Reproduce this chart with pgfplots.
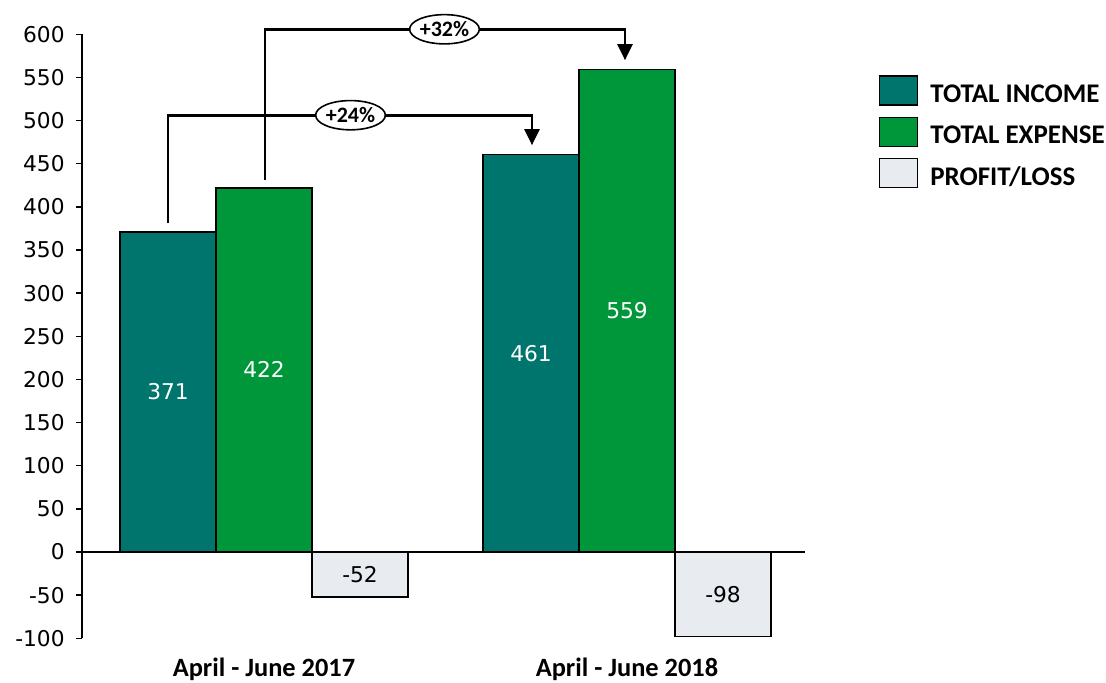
\documentclass[border=0pt]{standalone}
\usepackage{fontspec}
\setmainfont{DejaVu Sans}
\newfontfamily\carlito{Carlito}
\usepackage{pgfplots}
\pgfplotsset{compat=1.18}
\usetikzlibrary{arrows.meta,shapes.geometric}
\definecolor{income}{RGB}{0,117,110}
\definecolor{expense}{RGB}{0,150,58}
\definecolor{profit}{RGB}{232,235,240}
\pgfplotsset{
  boxlegend/.style={legend image code/.code={\draw[##1, line width=1pt] (0pt,-7.8pt) rectangle (28.5pt,13.95pt);}},
  midlabel/.style 2 args={nodes near coords,
    visualization depends on={rawy \as \rawy},
    every node near coord/.append style={anchor=center, xshift=#2, yshift={-0.3235714*\rawy}, font=\fontsize{16.3}{19}\selectfont, text=#1}},
}
\begin{document}
\begin{tikzpicture}
\begin{axis}[
  at={(0,0)}, anchor=south west,
  scale only axis, width=542.25pt, height=453pt,
  xmin=-0.5014, xmax=1.4904, ymin=-100, ymax=600,
  ytick={-100,-50,...,600},
  axis lines*=left,
  x axis line style={draw=none},
  axis line style={line width=1.1pt},
  tick align=outside, major tick length=4.5pt,
  y tick style={line width=1.1pt, black},
  xtick={0,1}, xticklabels={April - June 2017, April - June 2018},
  x tick style={draw=none},
  xticklabel style={font=\carlito\bfseries\fontsize{19.8}{23}\selectfont, yshift=-7pt},
  yticklabel style={font=\fontsize{16.3}{19}\selectfont, xshift=-5pt},
  /pgf/number format/assume math mode=true,
  extra y ticks={0}, extra y tick labels={},
  extra y tick style={grid=major, major grid style={black, line width=1.1pt}},
  clip=false,
  legend style={at={(1.1024,0.9322)}, anchor=north west, draw=none, fill=none,
    inner sep=0pt, outer sep=0pt, row sep=8.25pt,
    font=\carlito\bfseries\fontsize{20.2}{23}\selectfont,
    nodes={inner sep=0pt},
    /tikz/every odd column/.append style={column sep=9pt}},
  legend cell align=left,
]
\addplot[ybar, boxlegend, bar width=72pt, bar shift=-72pt, fill=income, draw=black, line width=1pt, midlabel={white}{-72pt}]
  coordinates {(0,371) (1,461)};
\addplot[ybar, boxlegend, bar width=72pt, bar shift=0pt, fill=expense, draw=black, line width=1pt, midlabel={white}{0pt}]
  coordinates {(0,422) (1,559)};
\addplot[ybar, boxlegend, bar width=72pt, bar shift=72pt, fill=profit, draw=black, line width=1pt, midlabel={black}{72pt}]
  coordinates {(0,-52) (1,-98)};
\legend{TOTAL INCOME, TOTAL EXPENSE, PROFIT/LOSS}
% change annotations
\draw[line width=2.2pt, -{Triangle[length=12pt,width=11pt]}]
  (axis cs:-0.2645,381.1) -- (axis cs:-0.2645,506.2) -- (axis cs:0.7383,506.2) -- (axis cs:0.7383,471.4);
\draw[line width=2.2pt, -{Triangle[length=12pt,width=11pt]}]
  (axis cs:0.0028,430.9) -- (axis cs:0.0028,605.8) -- (axis cs:0.9945,605.8) -- (axis cs:0.9945,569.9);
\node[ellipse, draw, fill=white, line width=1.2pt, inner xsep=0pt, inner ysep=2pt,
  font=\carlito\bfseries\fontsize{16.5}{18}\selectfont] at (axis cs:0.2383,506.2) {+24\%};
\node[ellipse, draw, fill=white, line width=1.2pt, inner xsep=0pt, inner ysep=2pt,
  font=\carlito\bfseries\fontsize{16.5}{18}\selectfont] at (axis cs:0.4972,605.8) {+32\%};
\end{axis}
\pgfresetboundingbox
\useasboundingbox (-61.5pt,-33.5pt) rectangle (768pt,478.7pt);
\end{tikzpicture}
\end{document}
